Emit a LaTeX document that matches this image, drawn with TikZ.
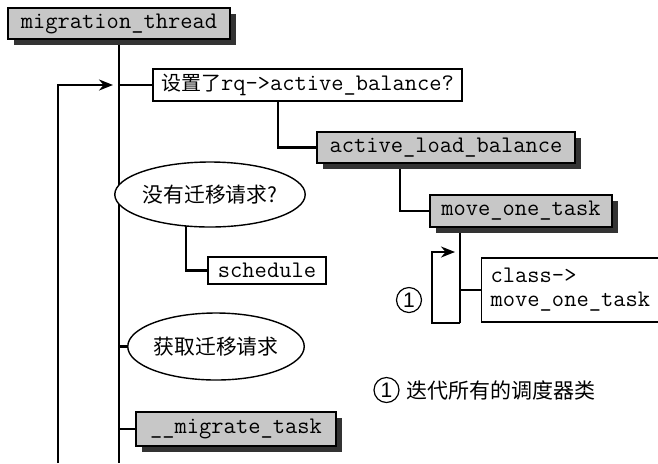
\documentclass[tikz,border=0pt]{standalone}
\usepackage{fontspec}
\setmainfont{Liberation Sans}
\newfontfamily\cjk{Noto Sans CJK SC}
\usetikzlibrary{shadows,backgrounds,arrows.meta,shapes.geometric}
\begin{document}
\begin{tikzpicture}[x=0.5pt,y=-0.5pt,
 conn/.style={line width=1.1pt},
 box/.style={draw,line width=0.7pt,fill=white,inner sep=0pt,font=\fontsize{11.9}{12}\ttfamily},
 gbox/.style={box,fill=black!22,drop shadow={shadow xshift=3pt,shadow yshift=-3pt,fill=black!80,opacity=1}},
 ell/.style={ellipse,draw,line width=0.7pt,fill=white,inner sep=0pt,font=\fontsize{10.4}{12}\cjk},
 num/.style={circle,draw,line width=0.6pt,minimum size=12.5pt,inner sep=0pt,font=\fontsize{10.5}{12}\selectfont},
 arr/.style={conn,-{Stealth[length=7pt,width=5.5pt]}}
]
\useasboundingbox (0,0) rectangle (658,463);
\node[gbox,minimum width=111pt,minimum height=15.5pt] (mt) at (119,23.5) {migration\_thread};
\node[box,minimum width=154.5pt,minimum height=16pt] (q1) at (307.5,85) {{\cjk\fontsize{10}{12}\selectfont 设置了}rq->active\_balance?};
\node[gbox,minimum width=129pt,minimum height=15.5pt] (alb) at (446,147.5) {active\_load\_balance};
\node[gbox,minimum width=91pt,minimum height=16pt] (mot) at (521,211) {move\_one\_task};
\node[box,anchor=west,minimum height=32pt,text width=91pt,align=left,inner xsep=4.5pt] (cls) at (481,290) {class->\\move\_one\_task};
\node[ell,minimum width=75pt,minimum height=32.5pt] (e1) at (210,194.5) {没有迁移请求?};
\node[box,minimum width=59pt,minimum height=13.5pt] (sch) at (267,270.5) {schedule};
\node[ell,minimum width=80pt,minimum height=33.5pt] (e2) at (216,346.5) {获取迁移请求};
\node[gbox,minimum width=100pt,minimum height=17pt] (mig) at (236,429) {\_\_migrate\_task};
\node[num] (c1) at (409,300) {1};
\node[num] (c2) at (386.5,390) {1};
\node[anchor=west,font=\fontsize{10.5}{12}\cjk,inner sep=0pt] (leg) at (406,390) {迭代所有的调度器类};
\coordinate (bot) at (119,463);
\coordinate (lbot) at (58,463);
\coordinate (ltop) at (58,85);
\coordinate (ltip) at (113,85);
\coordinate (lb) at (460,323);
\coordinate (la) at (432,252);
\coordinate (latip) at (455,252);
\begin{scope}[on background layer]
\draw[conn] (mt.south) -- (bot);
\draw[arr] (lbot) -- (ltop) -- (ltip);
\draw[conn] (mt.south |- q1.west) -- (q1.west);
\draw[conn] ([xshift=-14.75pt]q1.center) |- (alb.west);
\draw[conn] ([xshift=-23pt]alb.center) |- (mot.west);
\draw[conn] ([xshift=-30.5pt]mot.center) -- (lb);
\draw[arr] (lb) -| (la) -- (latip);
\draw[conn] (lb |- cls.west) -- (cls.west);
\draw[conn] (mt.south |- e1.west) -- (e1.west);
\draw[conn] ([xshift=-12pt]e1.center) |- (sch.west);
\draw[conn] (mt.south |- e2.west) -- (e2.west);
\draw[conn] (mt.south |- mig.west) -- (mig.west);
\end{scope}
\end{tikzpicture}
\end{document}
